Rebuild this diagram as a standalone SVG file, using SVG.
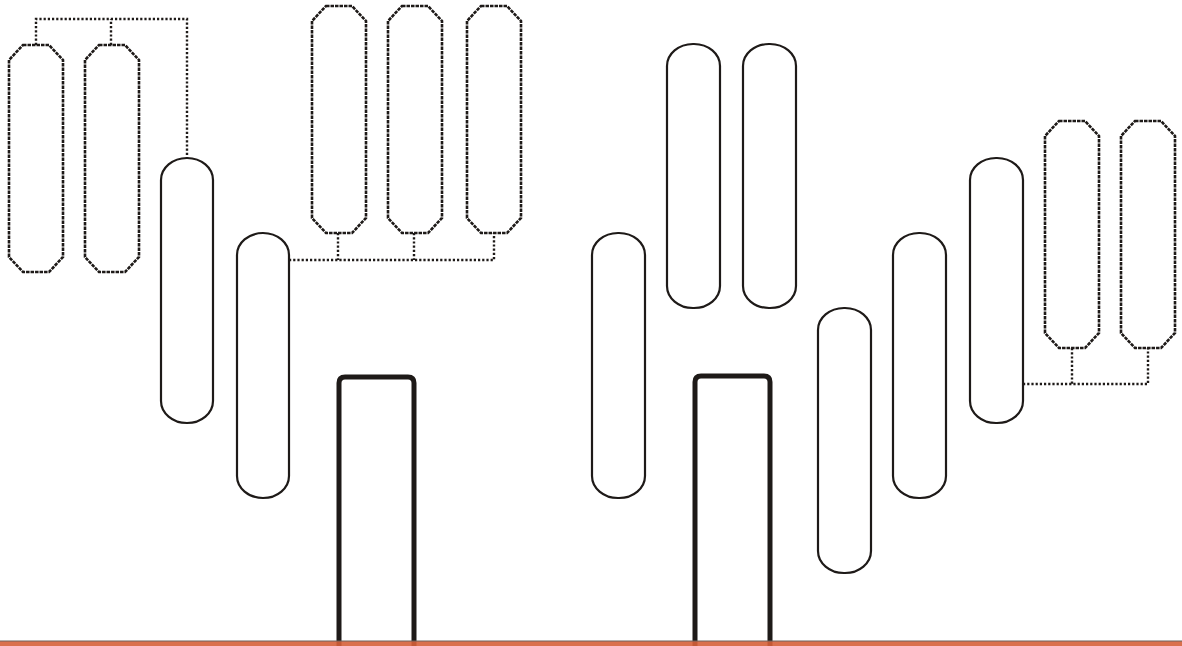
<svg xmlns="http://www.w3.org/2000/svg" width="1182" height="646" viewBox="0 0 1182 646">
<defs>
<style>
.pill{fill:none;stroke:#1e1a18;stroke-width:2.2}
.oct{fill:none;stroke:#1e1a18;stroke-width:2.6;stroke-dasharray:3.5 1}
.conn{fill:none;stroke:#1e1a18;stroke-width:2.4;stroke-dasharray:2.2 2}
.post{fill:none;stroke:#1e1a18;stroke-width:5;stroke-linejoin:round}
</style>
<path id="octShape" d="M14,0 H40 L54,15 V212 L40,227 H14 L0,212 V15 Z"/>
</defs>
<rect x="0" y="0" width="1182" height="646" fill="#ffffff"/>
<g id="connectors">
<path class="conn" d="M36,45 V19 H187 V158 M111,45 V19"/>
<path class="conn" d="M289,260 H494 V233 M338,233 V260 M414,233 V260"/>
<path class="conn" d="M1023,384 H1148 V348 M1072,348 V384"/>
</g>
<g id="oct1"><use href="#octShape" class="oct" x="9" y="45"/></g>
<g id="oct2"><use href="#octShape" class="oct" x="85" y="45"/></g>
<g id="oct3"><use href="#octShape" class="oct" x="312" y="6"/></g>
<g id="oct4"><use href="#octShape" class="oct" x="388" y="6"/></g>
<g id="oct5"><use href="#octShape" class="oct" x="467" y="6"/></g>
<g id="oct6"><use href="#octShape" class="oct" x="1045" y="121"/></g>
<g id="oct7"><use href="#octShape" class="oct" x="1121" y="121"/></g>
<g id="pill1"><rect class="pill" x="161" y="158" width="52" height="265" rx="26" ry="22"/></g>
<g id="pill2"><rect class="pill" x="237" y="233" width="52" height="265" rx="26" ry="22"/></g>
<g id="pill3"><rect class="pill" x="592" y="233" width="53" height="265" rx="26" ry="22"/></g>
<g id="pill4"><rect class="pill" x="667" y="44" width="53" height="264" rx="26" ry="22"/></g>
<g id="pill5"><rect class="pill" x="743" y="44" width="53" height="264" rx="26" ry="22"/></g>
<g id="pill6"><rect class="pill" x="818" y="308" width="53" height="265" rx="26" ry="22"/></g>
<g id="pill7"><rect class="pill" x="893" y="233" width="53" height="265" rx="26" ry="22"/></g>
<g id="pill8"><rect class="pill" x="970" y="158" width="53" height="265" rx="26" ry="22"/></g>
<g id="post1"><path class="post" d="M339,646 V383 Q339,377 345,377 H408 Q414,377 414,383 V646"/></g>
<g id="post2"><path class="post" d="M695,646 V382 Q695,376 701,376 H764 Q770,376 770,382 V646"/></g>
<g id="ground">
<rect x="0" y="641" width="1182" height="5" fill="#d6603a" opacity="0.9"/>
<line x1="0" y1="641" x2="1182" y2="641" stroke="#6a625e" stroke-width="1"/>
</g>
</svg>
